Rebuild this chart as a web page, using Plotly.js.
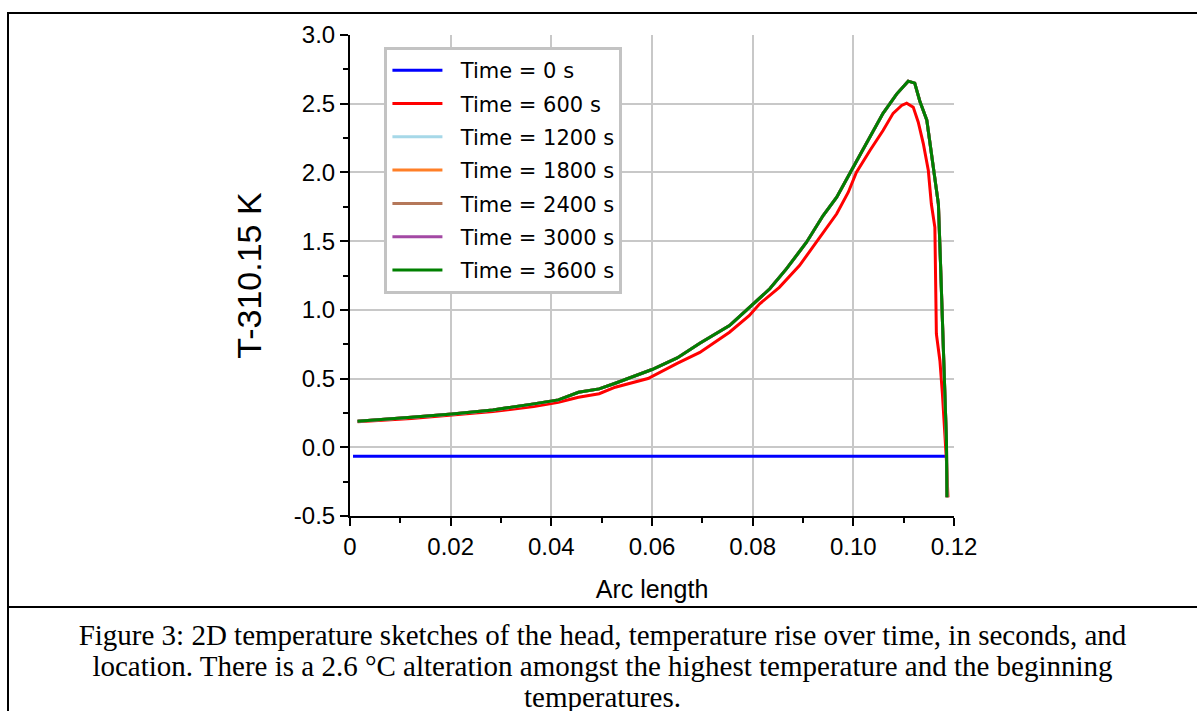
<!DOCTYPE html>
<html>
<head>
<meta charset="utf-8">
<script src="https://cdn.plot.ly/plotly-3.0.1.min.js"></script>
<style>
  html, body { margin: 0; padding: 0; background: #fff; }
  #wrap { position: relative; width: 1197px; height: 711px; overflow: hidden; }
  #chart { position: absolute; left: 0; top: 0; width: 1197px; height: 711px; }
  .ln { position: absolute; background: #000; }
  #caption { position: absolute; left: 8px; width: 1189px; top: 620px; text-align: center;
    font-family: "Liberation Serif", "Times New Roman", serif; font-size: 29px; line-height: 31px; color: #000; }
</style>
</head>
<body>
<div id="wrap">
  <div id="chart"></div>
  <div class="ln" style="left:7px; top:12px; width:1190px; height:2px;"></div>
  <div class="ln" style="left:7px; top:12px; width:2px; height:699px;"></div>
  <div class="ln" style="left:7px; top:606px; width:1190px; height:2px;"></div>
  <div id="caption">Figure 3: 2D temperature sketches of the head, temperature rise over time, in seconds, and<br>location. There is a 2.6 °C alteration amongst the highest temperature and the beginning<br>temperatures.</div>
</div>
<script>
// Series names and colours
const seriesNames = ["Time = 0 s", "Time = 600 s", "Time = 1200 s", "Time = 1800 s", "Time = 2400 s", "Time = 3000 s", "Time = 3600 s"];
const seriesColors = ["#0000ff", "#ff0000", "#a6d8e8", "#ff7f27", "#b5785a", "#a349a4", "#008000"];

// Time = 0 s
const x0 = [0.0006, 0.1184];
const y0 = [-0.065, -0.065];

// Time = 600 s
const x600 = [0.0015, 0.0060, 0.0122, 0.0203, 0.0284, 0.0365, 0.0414, 0.0454, 0.0495, 0.0527, 0.0592, 0.0650, 0.0695,
  0.0754, 0.0793, 0.0814, 0.0853, 0.0893, 0.0933, 0.0967, 0.0990, 0.1006, 0.1033, 0.1059, 0.1079, 0.1096, 0.1106,
  0.1119, 0.1129, 0.1139, 0.1149, 0.1155, 0.1162, 0.1164, 0.1165, 0.1172, 0.1177, 0.1185, 0.1188];
const y600 = [0.185, 0.195, 0.210, 0.235, 0.260, 0.296, 0.328, 0.364, 0.390, 0.437, 0.500, 0.610, 0.690,
  0.837, 0.958, 1.044, 1.164, 1.322, 1.528, 1.699, 1.856, 2.000, 2.160, 2.305, 2.430, 2.487, 2.504,
  2.475, 2.365, 2.210, 2.014, 1.770, 1.600, 1.237, 0.825, 0.630, 0.389, -0.097, -0.364];

// Time = 1200 s ... 3600 s (coincide on the picture)
const x3600 = [0.0015, 0.0060, 0.0122, 0.0203, 0.0284, 0.0365, 0.0414, 0.0454, 0.0495, 0.0527, 0.0600, 0.0650, 0.0695,
  0.0754, 0.0791, 0.0834, 0.0867, 0.0907, 0.0940, 0.0967, 0.1000, 0.1026, 0.1059, 0.1086, 0.1109,
  0.1122, 0.1132, 0.1146, 0.1152, 0.1162, 0.1169, 0.1173, 0.1177, 0.1182, 0.1185, 0.1186];
const y3600 = [0.190, 0.200, 0.218, 0.243, 0.272, 0.316, 0.345, 0.400, 0.425, 0.466, 0.566, 0.650, 0.757,
  0.886, 1.007, 1.153, 1.298, 1.492, 1.686, 1.820, 2.040, 2.210, 2.430, 2.570, 2.664,
  2.650, 2.520, 2.380, 2.210, 1.965, 1.770, 1.360, 0.873, 0.340, 0.049, -0.364];

const xTickVals = [0, 0.02, 0.04, 0.06, 0.08, 0.10, 0.12];
const xTickText = ["0", "0.02", "0.04", "0.06", "0.08", "0.10", "0.12"];
const yTickVals = [-0.5, 0, 0.5, 1.0, 1.5, 2.0, 2.5, 3.0];
const yTickText = ["-0.5", "0.0", "0.5", "1.0", "1.5", "2.0", "2.5", "3.0"];

const seriesX = [x0, x600, x3600, x3600, x3600, x3600, x3600];
const seriesY = [y0, y600, y3600, y3600, y3600, y3600, y3600];

const traces = seriesNames.map((n, i) => ({
  type: "scatter", mode: "lines", name: "\u00a0\u00a0" + n,
  x: seriesX[i], y: seriesY[i],
  legendgroup: "g" + i,
  line: { color: seriesColors[i], width: 3 },
  hoverinfo: "skip"
}));

const axisFont = { family: "Liberation Sans, Arial, sans-serif", size: 24, color: "#000" };

const layout = {
  width: 1197, height: 711,
  paper_bgcolor: "rgba(0,0,0,0)", plot_bgcolor: "#fff",
  margin: { l: 350, r: 243, t: 35, b: 195, pad: 0 },
  showlegend: true,
  legend: {
    x: 0.057, y: 0.975, xanchor: "left", yanchor: "top",
    bgcolor: "#fff", bordercolor: "#c3c3c3", borderwidth: 3,
    font: { family: "DejaVu Sans, sans-serif", size: 21, color: "#000" },
    traceorder: "grouped", tracegroupgap: 3, itemwidth: 50
  },
  xaxis: {
    range: [0, 0.12], tickvals: xTickVals, ticktext: xTickText,
    showgrid: true, gridcolor: "#c8c8c8", gridwidth: 2, zeroline: false,
    showline: true, linecolor: "#000", linewidth: 2,
    ticks: "outside", ticklen: 8, tickwidth: 2, tickcolor: "#000",
    minor: { dtick: 0.01, tick0: 0, ticks: "outside", ticklen: 5, tickwidth: 2, tickcolor: "#000", showgrid: false },
    tickfont: axisFont,
    title: { text: "Arc length", font: { family: "Liberation Sans, Arial, sans-serif", size: 25, color: "#000" }, standoff: 22 }
  },
  yaxis: {
    range: [-0.5, 3.0], tickvals: yTickVals, ticktext: yTickText,
    showgrid: true, gridcolor: "#c8c8c8", gridwidth: 2, zeroline: false,
    showline: true, linecolor: "#000", linewidth: 2,
    ticks: "outside", ticklen: 8, tickwidth: 2, tickcolor: "#000",
    minor: { dtick: 0.25, tick0: 0, ticks: "outside", ticklen: 5, tickwidth: 2, tickcolor: "#000", showgrid: false },
    tickfont: axisFont,
    title: { text: "T-310.15 K", font: { family: "Liberation Sans, Arial, sans-serif", size: 34, color: "#000" }, standoff: 22 }
  }
};

Plotly.newPlot("chart", traces, layout, { staticPlot: true, displayModeBar: false });
</script>
</body>
</html>
